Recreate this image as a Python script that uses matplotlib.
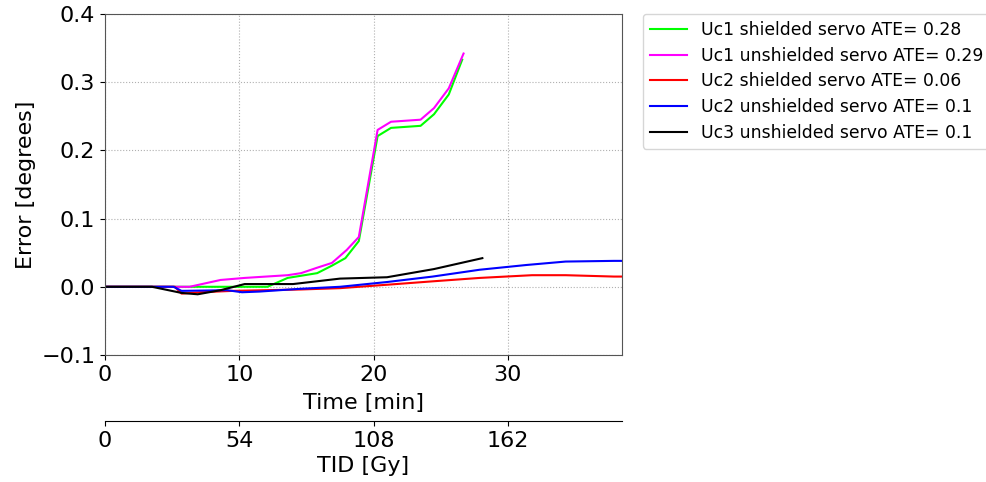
import numpy as np
import matplotlib
matplotlib.use("Agg")
import matplotlib.pyplot as plt

# --------------------------
# Data
# --------------------------
t_uc1s = [0, 5.4, 12.1, 13.6, 15.8, 16.9, 17.9, 18.9, 20.3, 21.3, 23.5, 24.5, 25.6, 26.6]
e_uc1s = [0, 0, 0, 0.013, 0.020, 0.031, 0.042, 0.067, 0.221, 0.233, 0.236, 0.253, 0.282, 0.333]

t_uc1u = [0, 5.4, 6.3, 8.6, 10.4, 13.6, 14.6, 15.8, 16.9, 18.0, 18.9, 20.3, 21.3, 23.5, 24.5, 25.6, 26.7]
e_uc1u = [0, 0, 0, 0.010, 0.013, 0.017, 0.020, 0.028, 0.035, 0.054, 0.073, 0.230, 0.242, 0.245, 0.262, 0.291, 0.342]

t_uc2s = [0, 5.2, 5.7, 7.1, 9.5, 14.5, 17.5, 21.0, 24.4, 27.9, 31.8, 34.3, 37.9, 38.5]
e_uc2s = [0, 0, -0.010, -0.008, -0.006, -0.004, -0.002, 0.003, 0.008, 0.013, 0.017, 0.017, 0.015, 0.015]

t_uc2u = [0, 5.1, 5.7, 9.1, 10.2, 11.5, 14.5, 17.5, 21.0, 24.4, 27.9, 31.4, 34.3, 37.9, 38.5]
e_uc2u = [0, 0, -0.006, -0.005, -0.008, -0.007, -0.003, 0.000, 0.007, 0.015, 0.025, 0.032, 0.037, 0.038, 0.038]

t_uc3u = [0, 3.5, 5.7, 6.9, 8.6, 10.4, 14.0, 17.5, 21.0, 24.5, 28.1]
e_uc3u = [0, 0, -0.009, -0.011, -0.005, 0.004, 0.004, 0.012, 0.014, 0.026, 0.042]

labels = ["Uc1 shielded servo ATE= 0.28",
          "Uc1 unshielded servo ATE= 0.29",
          "Uc2 shielded servo ATE= 0.06",
          "Uc2 unshielded servo ATE= 0.1",
          "Uc3 unshielded servo ATE= 0.1"]
colors = ["#00ff00", "#ff00ff", "#ff0000", "#0000ff", "#000000"]

gy_per_min = 5.4

# --------------------------
# Plot
# --------------------------
fig = plt.figure(figsize=(9.87, 4.82), dpi=100)
ax = fig.add_axes([0.1064, 0.2635, 0.5238, 0.7075])

series = [(t_uc1s, e_uc1s), (t_uc1u, e_uc1u), (t_uc2s, e_uc2s),
          (t_uc2u, e_uc2u), (t_uc3u, e_uc3u)]
for (t, e), lab, c in zip(series, labels, colors):
    ax.plot(t, e, color=c, linewidth=1.5, label=lab)

ax.set_xlim(0, 38.5)
ax.set_ylim(-0.1, 0.4)
ax.set_xticks([0, 10, 20, 30])
ax.set_yticks([-0.1, 0.0, 0.1, 0.2, 0.3, 0.4])
ax.tick_params(labelsize=16)
ax.set_xlabel("Time [min]", fontsize=16, labelpad=6)
ax.set_ylabel("Error [degrees]", fontsize=16)
ax.grid(True, linestyle=':', color='#b0b0b0', linewidth=0.8)
for s in ax.spines.values():
    s.set_color('#555555')

sec = ax.secondary_xaxis(-0.194, functions=(lambda x: x * gy_per_min,
                                            lambda x: x / gy_per_min))
sec.set_xticks([0, 54, 108, 162])
sec.tick_params(labelsize=16)
sec.set_xlabel("TID [Gy]", fontsize=16, labelpad=4)

ax.legend(loc='upper left', bbox_to_anchor=(1.04, 1.0), fontsize=12.4,
          handlelength=2.2, handletextpad=0.8, borderaxespad=0.,
          labelspacing=0.45)

fig.savefig("out.png", dpi=100)
